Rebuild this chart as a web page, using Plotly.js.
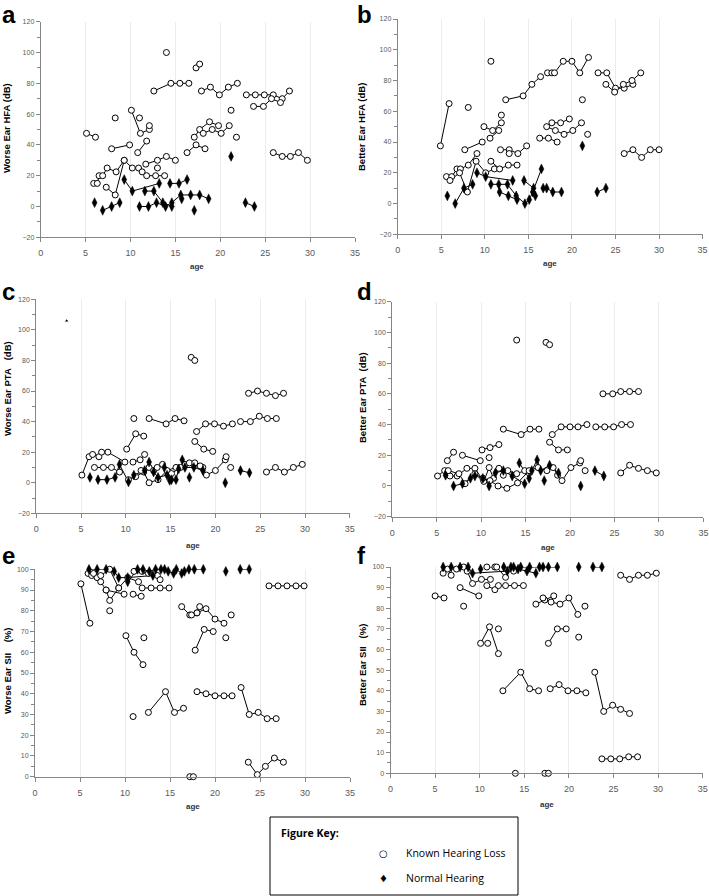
<!DOCTYPE html>
<html><head><meta charset="utf-8">
<script src="https://cdn.plot.ly/plotly-3.0.1.min.js"></script>
<style>html,body{margin:0;padding:0;background:#fff;}#chart{width:709px;height:896px;}</style>
</head><body><div id="chart"></div>
<script>
// ---------------- DATA (age, value) per subject; each inner list = one subject's visits ----------------
const aLoss = [
 [[5.1,47.5],[6.1,45]], [[14.0,100]], [[17.3,90],[17.7,92.5]],
 [[12.6,75],[14.5,80],[15.5,80],[16.5,80]],
 [[17.9,75],[18.9,77.5],[19.9,72.5],[20.9,77.5],[21.9,80]],
 [[22.9,72.5],[23.9,72.5],[24.9,72.5],[25.9,72.5],[26.9,70],[27.7,75]],
 [[23.7,65],[24.8,65],[25.7,70],[26.7,67.5]],
 [[21.2,62.5]], [[21.8,45]], [[8.3,57.5]],
 [[10.1,62.5],[11.1,47.5],[12.1,50]], [[11.0,57.5]], [[12.1,52.5]],
 [[7.9,37.5],[9.9,40]], [[10.8,35],[11.8,42.5]],
 [[17.1,45],[17.7,50],[18.8,55],[19.8,52.5]],
 [[18.1,47.5],[19.1,50],[20.1,47.5],[21.0,52.5]],
 [[16.3,35],[17.3,40],[18.3,37.5]],
 [[11.7,27.5],[13.0,30],[14.0,32.5],[15.0,30]], [[13.0,25]],
 [[25.9,35],[26.9,32.5],[27.8,32.5],[28.7,35],[29.7,30]],
 [[5.9,15],[6.3,15],[6.5,20],[6.9,20],[7.4,25],[8.4,22.5],[9.3,30]],
 [[7.3,12.5],[8.3,7.5],[9.3,30],[10.2,25],[10.9,25],[11.3,22.5],[11.8,20],[12.8,20],[13.8,20]]
];
const aNorm = [
 [[6.0,2.5]], [[6.9,-2.5],[7.9,0],[8.8,2.5]], [[9.3,17.5],[10.2,10],[13.2,15]],
 [[11.6,10],[12.6,10],[13.6,2.5],[14.6,0]],
 [[11.0,0],[12.0,0],[12.9,2.5],[13.9,0],[14.6,2.5],[15.6,7.5],[16.7,7.5],[17.7,7.5],[18.7,5]],
 [[14.4,15],[15.4,15],[16.3,17.5]], [[15.7,5]], [[17.1,-2.5]], [[21.2,32.5]], [[22.8,2.5],[23.8,0]]
];
const bLoss = [
 [[4.9,37.5],[5.9,65]], [[10.7,92.5]], [[8.1,62.5]],
 [[12.4,67.5],[14.4,70],[15.4,77.5],[16.4,82.5]],
 [[17.2,85],[17.7,85],[18.0,85],[19.0,92.5],[20.0,92.5],[20.9,85],[21.9,95]],
 [[23.0,85],[24.0,85],[25.0,75],[26.0,75],[27.0,77.5]],
 [[23.9,77.5],[24.9,72.5],[25.9,77.5],[26.9,80],[27.9,85]],
 [[21.2,67.5]], [[21.8,45]],
 [[9.9,50],[10.9,47.5],[11.9,52.5]], [[11.9,57.5]], [[10.6,42.5],[11.6,47.5]],
 [[7.7,35],[9.7,40]], [[11.8,35],[12.8,35],[13.8,32.5],[14.8,37.5]], [[12.8,32.5]],
 [[17.1,50],[18.1,47.5],[19.1,45],[20.1,47.5],[21.1,52.5]],
 [[17.7,52.5],[18.7,52.5],[19.7,55]], [[16.3,42.5],[17.3,42.5],[18.3,40]],
 [[26.0,32.5],[27.0,35],[28.0,30],[29.0,35],[30.0,35]],
 [[5.6,17.5],[6.2,17.5],[6.8,22.5],[7.2,22.5],[8.1,25],[9.1,32.5]],
 [[6.0,15],[7.1,20],[8.0,7.5],[9.0,27.5],[10.1,20],[11.1,22.5]],
 [[10.7,27.5],[11.7,22.5],[12.7,25],[13.7,25]]
];
const bNorm = [
 [[5.7,5]], [[6.6,0],[7.6,10],[8.6,12.5]], [[9.1,20],[10.1,17.5],[13.2,15]],
 [[10.7,12.5],[11.6,12.5],[12.6,12.5],[13.6,5],[14.6,0],[15.1,2.5],[15.5,7.5],[16.5,22.5]],
 [[11.7,7.5],[12.7,5],[13.7,2.5]], [[14.5,15],[15.6,10],[15.8,5]],
 [[16.7,10],[17.1,10],[17.8,7.5],[18.8,7.5]], [[21.2,37.5]], [[22.9,7.5],[23.9,10]]
];
const cLoss = [
 [[17.3,82],[17.7,80]],
 [[23.7,58.5],[24.7,60],[25.7,58.5],[26.7,57],[27.6,58.5]],
 [[22.8,40],[23.9,40],[24.9,43.5],[25.8,42],[26.8,42]],
 [[10.9,42]], [[12.6,42],[14.5,38.5],[15.5,42],[16.5,40.5]],
 [[17.9,33.5],[18.9,38.5],[19.9,38.5],[20.9,37],[21.9,38.5]],
 [[17.7,27],[18.7,22],[19.7,20.5]], [[10.1,22],[11.1,32],[12.0,30.5]],
 [[5.1,5],[5.9,17],[6.3,18.5],[7.0,17],[7.3,20]],
 [[6.5,10],[7.5,10],[8.4,10],[9.3,7]], [[8.0,20],[9.9,13.5]],
 [[10.8,13.5],[11.6,15],[12.1,18.5]],
 [[10.3,2],[11.1,4],[12.0,7],[12.6,0],[13.6,2],[14.6,8],[15.6,10],[16.6,12],[17.6,12],[18.6,10],[19.0,5],[20.0,8],[21.1,15],[21.2,17]],
 [[11.7,8],[12.6,10],[13.1,8],[13.5,10],[14.1,12],[15.1,6],[16.1,10],[17.1,13],[17.7,13],[18.3,11]],
 [[21.7,10]], [[25.7,7],[26.7,10],[27.7,7],[28.7,10],[29.7,12]]
];
const cNorm = [
 [[6.0,3.5]],
 [[6.9,2],[7.9,2],[8.8,3.5],[9.3,12],[10.3,0.5],[10.9,5],[12.1,8],[12.6,13.5],[13.1,7],[13.6,3.5],[14.6,5],[15.1,2],[15.6,2],[15.9,9]],
 [[14.3,10],[14.9,1.5]], [[16.3,15],[16.6,10],[17.6,10],[18.6,8]],
 [[17.1,3.5]], [[21.1,0]], [[22.8,8],[23.8,6.5]]
];
const cStray = [[[3.4,106]]];
const dLoss = [
 [[14.0,95]], [[17.3,93.5],[17.7,92]],
 [[23.7,60],[24.8,60],[25.7,61.5],[26.7,61.5],[27.7,61.5]],
 [[22.9,38.5],[23.9,38.5],[24.9,38.5],[25.8,40],[26.8,40]],
 [[12.5,37],[14.5,33.5],[15.5,37],[16.5,37]],
 [[18.0,33.5],[19.0,38.5],[20.0,38.5],[20.9,38.5],[21.9,40]],
 [[17.7,28.5],[18.7,23.5],[19.7,23.5]], [[10.1,23.5],[11.0,25],[12.0,27]],
 [[10.9,18.5]], [[6.2,16.5],[6.9,22]], [[7.9,20],[9.9,16.5]],
 [[25.7,8.5],[26.7,13.5],[27.7,11.5],[28.7,10],[29.7,8.5]],
 [[5.1,6.5],[5.9,10],[6.2,8.5],[6.5,6.5],[7.3,6.5],[8.4,11.5],[9.3,11.5],[10.3,3],[10.9,12],[11.4,5],[12.0,11.5],[12.5,7],[13.0,10],[14.0,8],[14.9,10]],
 [[6.3,10],[7.5,8],[8.2,1.5],[9.3,8],[10.2,5],[11.0,3.5],[11.9,0],[12.9,-1.5],[14.1,2],[15.4,10],[16.4,12],[17.4,10],[18.1,12],[18.6,7],[19.1,3.5],[20.1,12],[21.1,15],[21.2,16.5]],
 [[21.7,10]]
];
const dNorm = [
 [[6.0,7]],
 [[6.9,0],[7.9,1.5],[8.8,5],[9.3,6.5],[10.2,5],[10.9,0],[11.6,8.5],[12.5,10],[13.5,6.5],[14.9,1.5]],
 [[14.3,15],[15.4,5],[15.7,10],[16.3,17],[16.7,10],[17.7,13.5],[18.7,8.5]],
 [[17.1,3.5]], [[21.2,0]], [[22.8,10],[23.8,6.5]]
];
const eLoss = [
 [[5.1,93],[6.1,74]],
 [[5.9,98],[6.3,97],[6.9,96],[7.3,94],[7.9,90],[8.3,85],[9.3,91],[10.3,96],[11.5,94]],
 [[6.5,98],[7.3,97],[8.3,100],[9.3,91]], [[7.9,90],[9.9,88]], [[8.3,80]],
 [[10.9,88],[11.8,87]], [[11.0,99],[11.9,99],[12.6,98],[13.6,97],[13.9,95]],
 [[11.9,91],[12.9,91],[13.9,91],[14.9,91]],
 [[26.0,92],[27.0,92],[28.0,92],[29.0,92],[29.9,92]],
 [[16.3,82],[17.2,78],[17.4,78],[18.0,79],[18.3,82]],
 [[18.0,79],[19.0,81],[20.0,76],[21.0,74]], [[21.8,78]], [[21.2,67]],
 [[10.1,68],[11.0,60],[12.0,54]], [[12.1,67]], [[17.8,61],[18.8,71],[19.8,70]],
 [[10.9,29]], [[12.6,31],[14.5,41],[15.5,31],[16.5,33]],
 [[18.0,41],[19.0,40],[20.0,39],[21.0,39],[21.9,39]],
 [[22.9,43],[23.8,30],[24.8,31],[25.8,28],[26.8,28]],
 [[23.7,7],[24.7,1],[25.6,5],[26.6,9],[27.6,7]], [[17.2,0],[17.6,0]]
];
const eNorm = [
 [[6.0,100],[6.9,100],[7.9,100],[8.8,99],[9.3,96],[10.3,96],[13.1,97]],
 [[10.3,94],[11.4,100],[12.0,100],[12.7,99],[13.4,100],[14.0,100],[14.4,100],[14.8,99],[15.4,98],[15.7,100],[16.3,98],[16.6,99],[17.1,100],[17.7,100],[18.7,100]],
 [[21.2,99]], [[22.8,100],[23.8,100]]
];
const fLoss = [
 [[5.0,86],[6.0,85]], [[5.9,97],[6.4,99],[6.8,96]],
 [[7.4,99],[8.2,100],[8.6,98],[9.2,92],[10.2,94],[11.2,94]],
 [[7.8,90],[9.9,86]], [[8.2,81]],
 [[10.8,91],[11.7,89],[12.1,91],[12.9,91],[13.9,91],[14.9,91]],
 [[10.8,100],[11.7,100],[11.9,100],[12.9,95]], [[13.8,98]],
 [[10.1,63],[11.1,71],[12.1,58]], [[10.9,63]], [[12.1,70]],
 [[12.6,40],[14.6,49],[15.6,41],[16.6,40]],
 [[16.3,82],[17.3,84],[18.3,86]], [[17.1,85],[18.0,83],[19.0,82],[20.0,85],[21.0,77]],
 [[21.8,81]], [[21.1,66]], [[17.7,63],[18.7,70],[19.7,70]],
 [[17.9,41],[18.9,43],[19.9,40],[20.9,40],[21.9,39]],
 [[22.9,49],[23.9,30],[24.9,33],[25.8,31],[26.8,29]],
 [[23.7,7],[24.7,7],[25.7,7],[26.7,8],[27.7,8]],
 [[25.8,96],[26.8,94],[27.8,96],[28.8,96],[29.8,97]],
 [[14.0,0]], [[17.3,0],[17.7,0]]
];
const fNorm = [
 [[5.9,100],[6.8,100],[7.8,100],[8.7,100],[9.2,97],[13.1,98]], [[10.1,99]],
 [[12.7,100],[13.5,100],[14.6,100],[15.6,100],[16.7,100],[17.1,100],[17.7,100],[18.7,100]],
 [[13.8,100],[14.3,99],[15.3,98],[16.3,97]], [[21.1,100]], [[22.7,100],[23.7,100]]
];
const xTitle = 'age';
const yTitles = ['Worse Ear HFA (dB)','Better Ear HFA (dB)','Worse Ear PTA\u00a0\u00a0\u00a0(dB)','Better Ear PTA\u00a0\u00a0(dB)','Worse Ear SII\u00a0\u00a0\u00a0\u00a0(%)','Better Ear SII\u00a0\u00a0\u00a0(%)'];
const panelLetters = ['a','b','c','d','e','f'];
const keyTitle = 'Figure Key:';
const keyLabels = ['Known Hearing Loss','Normal Hearing'];

// ---------------- LAYOUT ----------------
const W = 709, H = 896;
const panels = [
 {loss:aLoss, norm:aNorm, px:[40.7,355], py:[21.7,237.3], yr:[-20,120], dt:20, mdt:10, tx:7, ty:128, lx:1, ly:0, ax:197, ay:266},
 {loss:bLoss, norm:bNorm, px:[397.7,702.6], py:[19,234.3], yr:[-20,120], dt:20, mdt:10, tx:362, ty:127, lx:356, ly:0, ax:550, ay:263},
 {loss:cLoss, norm:cNorm, px:[36.2,349.8], py:[299.3,513.3], yr:[-20,120], dt:20, mdt:10, tx:7, ty:389, lx:1, ly:277, ax:193, ay:545},
 {loss:dLoss, norm:dNorm, px:[392.2,703.4], py:[301.7,516.7], yr:[-20,120], dt:20, mdt:10, tx:362, ty:398, lx:356, ly:277, ax:548, ay:547},
 {loss:eLoss, norm:eNorm, px:[35,350], py:[569.3,776.7], yr:[0,100], dt:10, mdt:5, tx:7, ty:671, lx:1, ly:541, ax:193, ay:806},
 {loss:fLoss, norm:fNorm, px:[390.5,702.7], py:[567,773.3], yr:[0,100], dt:10, mdt:5, tx:362, ty:665, lx:356, ly:541, ax:547, ay:804}
];
const AX = '#868686', TXT = '#595959';
const FONT = 'Liberation Sans, Arial, sans-serif';

function flatten(groups){
  const x=[], y=[];
  groups.forEach((g,i)=>{ if(i){x.push(null); y.push(null);} g.forEach(p=>{x.push(p[0]); y.push(p[1]);}); });
  return {x, y};
}
const traces = [], annotations = [], shapes = [];
const layout = {width:W, height:H, margin:{l:0,r:0,t:0,b:0}, paper_bgcolor:'#fff', plot_bgcolor:'#fff',
  showlegend:false, font:{family:FONT}};

panels.forEach((p,i)=>{
  const n = i+1, xa = 'x'+(n>1?n:''), ya = 'y'+(n>1?n:'');
  layout['xaxis'+(n>1?n:'')] = {domain:[p.px[0]/W, p.px[1]/W], anchor:ya, range:[0,35], dtick:5, tick0:0,
    showgrid:true, gridcolor:'#ececec', gridwidth:1, zeroline:false, showline:true, linecolor:AX, linewidth:1,
    ticks:'outside', ticklen:4, tickcolor:AX, tickfont:{size:9, color:TXT, family:FONT}, ticklabelstandoff:3, fixedrange:true};
  layout['yaxis'+(n>1?n:'')] = {domain:[1-p.py[1]/H, 1-p.py[0]/H], anchor:xa, range:p.yr, dtick:p.dt, tick0:0,
    showgrid:false, zeroline:false, showline:true, linecolor:AX, linewidth:1,
    ticks:'outside', ticklen:4, tickcolor:AX, tickfont:{size:7, color:TXT, family:FONT},
    minor:{ticks:'outside', ticklen:3, dtick:p.mdt, tick0:0, tickcolor:AX, showgrid:false}, fixedrange:true};
  const L = flatten(p.loss), N = flatten(p.norm);
  traces.push({type:'scatter', mode:'lines', x:L.x, y:L.y, xaxis:xa, yaxis:ya, connectgaps:false,
    line:{color:'#000', width:1}, hoverinfo:'skip', cliponaxis:false});
  traces.push({type:'scatter', mode:'lines', x:N.x, y:N.y, xaxis:xa, yaxis:ya, connectgaps:false,
    line:{color:'#000', width:1}, hoverinfo:'skip', cliponaxis:false});
  traces.push({type:'scatter', mode:'markers', x:L.x, y:L.y, xaxis:xa, yaxis:ya, name:keyLabels[0],
    marker:{symbol:'circle', size:6, color:'#fff', line:{color:'#000', width:1}}, cliponaxis:false});
  traces.push({type:'scatter', mode:'markers', x:N.x, y:N.y, xaxis:xa, yaxis:ya, name:keyLabels[1],
    marker:{symbol:'diamond-tall', size:7, color:'#000', line:{color:'#000', width:0.5}}, cliponaxis:false});
  if(i===2){
    const S = flatten(cStray);
    traces.push({type:'scatter', mode:'markers', x:S.x, y:S.y, xaxis:xa, yaxis:ya,
      marker:{symbol:'triangle-up', size:3, color:'#000'}, hoverinfo:'skip'});
  }
  annotations.push({xref:'paper', yref:'paper', x:p.tx/W, y:1-p.ty/H, text:'<b>'+yTitles[i]+'</b>', textangle:-90,
    showarrow:false, font:{size:9.5, color:'#000', family:FONT}, xanchor:'center', yanchor:'middle'});
  annotations.push({xref:'paper', yref:'paper', x:p.ax/W, y:1-p.ay/H, text:'<b>'+xTitle+'</b>',
    showarrow:false, font:{size:8, color:'#333', family:FONT}, xanchor:'center', yanchor:'middle'});
  annotations.push({xref:'paper', yref:'paper', x:p.lx/W, y:1-p.ly/H, text:'<b>'+panelLetters[i]+'</b>',
    showarrow:false, font:{size:24, color:'#000', family:FONT}, xanchor:'left', yanchor:'top', borderpad:0});
});

// Figure key box
shapes.push({type:'rect', xref:'paper', yref:'paper', x0:270/W, x1:518/W, y0:1-895/H, y1:1-817/H,
  line:{color:'#000', width:1}, fillcolor:'rgba(0,0,0,0)'});
const KF = 'Open Sans, Noto Sans, sans-serif';
annotations.push({xref:'paper', yref:'paper', x:279/W, y:1-833/H, text:'<b>'+keyTitle+'</b>', showarrow:false,
  xanchor:'left', yanchor:'middle', font:{size:10.5, color:'#000', family:KF}});
annotations.push({xref:'paper', yref:'paper', x:383/W, y:1-853/H, text:'○', showarrow:false,
  xanchor:'center', yanchor:'middle', font:{size:10, color:'#000', family:'DejaVu Sans'}});
annotations.push({xref:'paper', yref:'paper', x:383/W, y:1-878/H, text:'♦', showarrow:false,
  xanchor:'center', yanchor:'middle', font:{size:10, color:'#000', family:'DejaVu Sans'}});
annotations.push({xref:'paper', yref:'paper', x:404/W, y:1-853/H, text:keyLabels[0], showarrow:false,
  xanchor:'left', yanchor:'middle', font:{size:10.5, color:'#000', family:KF}});
annotations.push({xref:'paper', yref:'paper', x:404/W, y:1-878/H, text:keyLabels[1], showarrow:false,
  xanchor:'left', yanchor:'middle', font:{size:10.5, color:'#000', family:KF}});

layout.annotations = annotations;
layout.shapes = shapes;
Plotly.newPlot('chart', traces, layout, {staticPlot:true, displayModeBar:false});
</script>
</body></html>
